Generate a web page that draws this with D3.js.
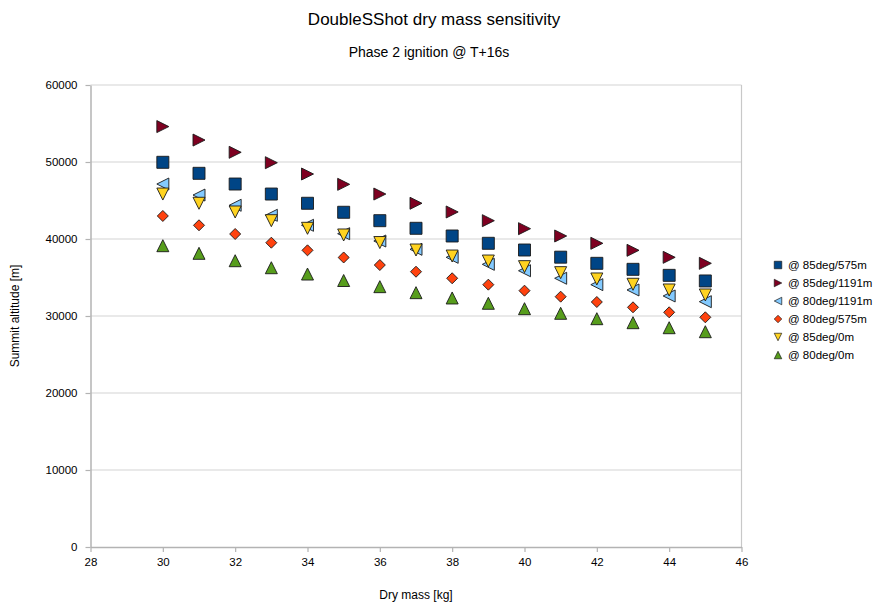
<!DOCTYPE html>
<html><head><meta charset="utf-8">
<script src="https://cdn.jsdelivr.net/npm/d3@7"></script>
<style>body{margin:0;background:#fff}svg{display:block;font-family:"Liberation Sans",Arial,sans-serif}</style>
</head><body><svg id="c" width="875" height="605"></svg>
<script>
const dryMass = [30,31,32,33,34,35,36,37,38,39,40,41,42,43,44,45];
const s85_575  = [49960,48530,47140,45840,44640,43470,42380,41390,40390,39440,38570,37640,36840,36060,35280,34550];
const s85_1191 = [54600,52850,51260,49910,48440,47100,45840,44640,43510,42380,41340,40390,39440,38530,37620,36840];
const s80_1191 = [47140,45710,44380,43080,41780,40690,39740,38660,37620,36710,35880,34900,34070,33380,32600,31860];
const s80_575  = [42990,41780,40650,39520,38530,37600,36620,35750,34900,34070,33290,32510,31820,31130,30480,29830];
const s85_0    = [45840,44640,43510,42380,41390,40520,39540,38570,37790,37140,36410,35630,34810,34120,33380,32730];
const s80_0    = [39130,38140,37180,36270,35450,34610,33810,33030,32340,31650,30950,30350,29650,29130,28480,27960];
const seriesNames = ["@ 85deg/575m","@ 85deg/1191m","@ 80deg/1191m","@ 80deg/575m","@ 85deg/0m","@ 80deg/0m"];
const xTicks = [28,30,32,34,36,38,40,42,44,46];
const yTicks = [0,10000,20000,30000,40000,50000,60000];

const seriesVals = [s85_575,s85_1191,s80_1191,s80_575,s85_0,s80_0];
const colors = ["#004586","#7e0021","#83caff","#ff420e","#ffd320","#579d1c"];
const shapes = ["square","right","left","diamond","down","up"];

const svg = d3.select("#c");
const L=90.5, R=741.5, T=85, B=547;
const x = d3.scaleLinear().domain([28,46]).range([L,R]);
const y = d3.scaleLinear().domain([0,60000]).range([B,T]);

function markerPath(shape, s){
  const h=s/2;
  switch(shape){
    case "square": return `M${-h},${-h}H${h}V${h}H${-h}Z`;
    case "right": return `M${-h},${-h}L${h},0L${-h},${h}Z`;
    case "left": return `M${h},${-h}L${-h},0L${h},${h}Z`;
    case "down": return `M${-h},${-h}L${h},${-h}L0,${h}Z`;
    case "up": return `M0,${-h}L${h},${h}L${-h},${h}Z`;
    case "diamond": return `M0,${-h}L${h},0L0,${h}L${-h},0Z`;
  }
}

// gridlines
svg.append("g").selectAll("line").data(yTicks.filter(d=>d>0)).join("line")
  .attr("x1",L).attr("x2",R).attr("y1",d=>y(d)).attr("y2",d=>y(d))
  .attr("stroke","#d4d4d4").attr("stroke-width",1.2);

// right border
svg.append("line").attr("x1",R).attr("x2",R).attr("y1",T).attr("y2",B).attr("stroke","#c8c8c8").attr("stroke-width",1.2);

// axes
const gx = svg.append("g").attr("transform",`translate(0,${B})`)
  .call(d3.axisBottom(x).tickValues(xTicks).tickFormat(d3.format("d")).tickSize(5).tickPadding(6).tickSizeOuter(0));
const gy = svg.append("g").attr("transform",`translate(${L},0)`)
  .call(d3.axisLeft(y).tickValues(yTicks).tickFormat(d3.format("d")).tickSize(5).tickPadding(8).tickSizeOuter(0));
[gx,gy].forEach(g=>{
  g.selectAll("path.domain").attr("stroke","#b3b3b3").attr("stroke-width",1.5);
  g.selectAll(".tick line").attr("stroke","#b3b3b3").attr("stroke-width",1.2);
  g.selectAll(".tick text").attr("fill","#000").style("font-size","11.5px").style("font-family","Liberation Sans, Arial, sans-serif");
});

// series
seriesVals.forEach((vals,i)=>{
  const sz = shapes[i]==="diamond"?11:12;
  svg.append("g").selectAll("path").data(vals).join("path")
    .attr("transform",(d,j)=>`translate(${x(dryMass[j])},${y(d)})`)
    .attr("d",markerPath(shapes[i],sz))
    .attr("fill",colors[i]).attr("stroke","#1a1a1a").attr("stroke-width",0.9);
});

// titles
svg.append("text").attr("x",434).attr("y",25).attr("text-anchor","middle")
  .style("font-size","17px").text("DoubleSShot dry mass sensitivity");
svg.append("text").attr("x",429).attr("y",57).attr("text-anchor","middle")
  .style("font-size","14px").text("Phase 2 ignition @ T+16s");
svg.append("text").attr("x",416).attr("y",599).attr("text-anchor","middle")
  .style("font-size","12px").text("Dry mass [kg]");
svg.append("text").attr("transform","translate(19,316) rotate(-90)").attr("text-anchor","middle")
  .style("font-size","12px").text("Summit altitude [m]");

// legend
const lg = svg.append("g");
seriesNames.forEach((n,i)=>{
  const ly = 265 + i*18;
  lg.append("path").attr("transform",`translate(778,${ly})`).attr("d",markerPath(shapes[i],7.5))
    .attr("fill",colors[i]).attr("stroke","#1a1a1a").attr("stroke-width",0.7);
  lg.append("text").attr("x",788).attr("y",ly+4).style("font-size","11.5px").text(n);
});
</script></body></html>
